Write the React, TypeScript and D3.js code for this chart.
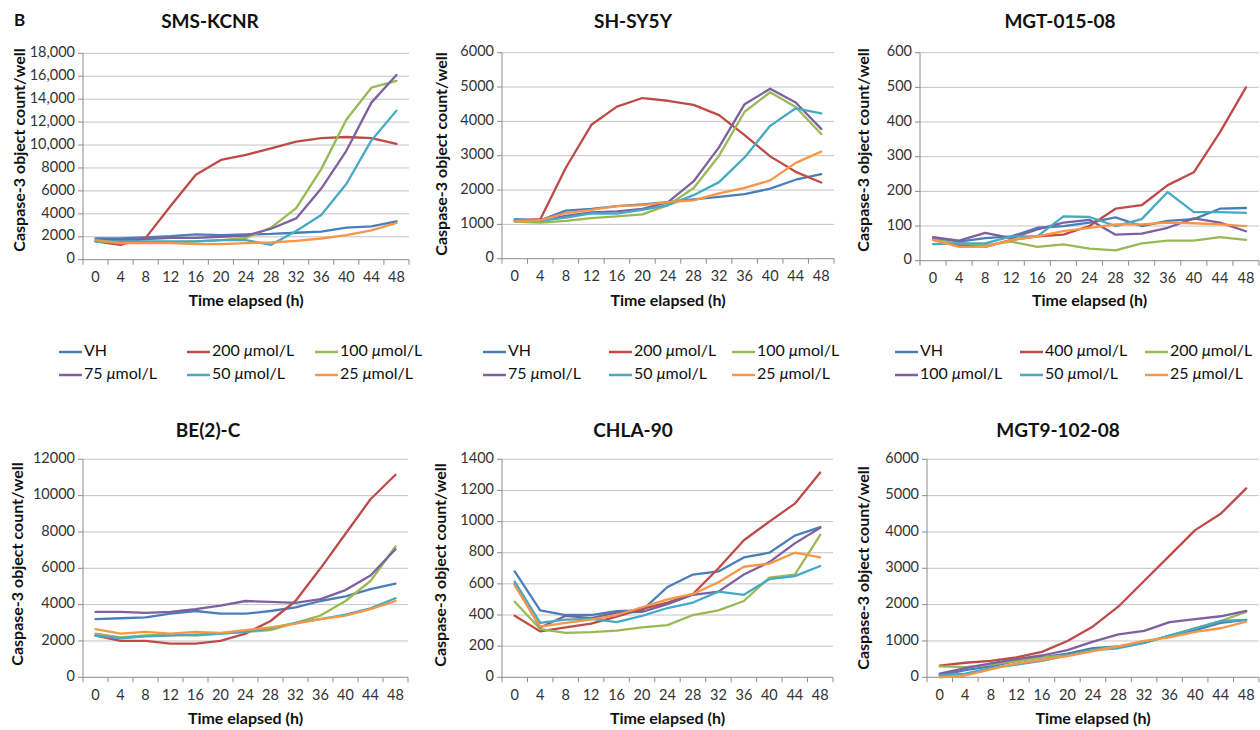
import React from "react";
import * as d3 from "d3";

// time points (h)
const hours = [0, 4, 8, 12, 16, 20, 24, 28, 32, 36, 40, 44, 48];

const seriesColors = ["#4a7ebb", "#be4b48", "#98b954", "#7d60a0", "#46aac5", "#f79646"];
const concA = ["VH", "200 ", "100 ", "75 ", "50 ", "25 "];
const concB = ["VH", "400 ", "200 ", "100 ", "50 ", "25 "];

// SMS-KCNR
const kcnrVH = [1850, 1850, 1950, 2050, 2200, 2150, 2200, 2250, 2350, 2450, 2800, 2900, 3350];
const kcnr200 = [1600, 1300, 1900, 4700, 7400, 8700, 9150, 9700, 10300, 10600, 10700, 10600, 10100];
const kcnr100 = [1600, 1500, 1500, 1500, 1600, 1700, 1900, 2800, 4500, 7900, 12200, 15000, 15600];
const kcnr75 = [1700, 1700, 1800, 1900, 1900, 2000, 2100, 2700, 3600, 6200, 9500, 13700, 16100];
const kcnr50 = [1600, 1600, 1600, 1600, 1600, 1700, 1700, 1300, 2500, 3900, 6600, 10400, 13000];
const kcnr25 = [1700, 1450, 1450, 1450, 1350, 1350, 1450, 1500, 1650, 1850, 2150, 2550, 3200];
const kcnrTicks = [0, 2000, 4000, 6000, 8000, 10000, 12000, 14000, 16000, 18000];
const kcnrTickLabels = ["0", "2000", "4000", "6000", "8000", "10,000", "12,000", "14,000", "16,000", "18,000"];

// SH-SY5Y
const shVH = [1150, 1120, 1400, 1450, 1530, 1580, 1650, 1730, 1800, 1880, 2040, 2300, 2460];
const sh200 = [1100, 1150, 2650, 3900, 4430, 4680, 4600, 4480, 4180, 3600, 2980, 2530, 2220];
const sh100 = [1080, 1050, 1100, 1180, 1230, 1290, 1560, 2050, 3000, 4280, 4850, 4420, 3630];
const sh75 = [1100, 1100, 1250, 1350, 1380, 1450, 1650, 2250, 3250, 4500, 4950, 4550, 3780];
const sh50 = [1130, 1100, 1200, 1320, 1310, 1420, 1560, 1850, 2230, 2950, 3870, 4380, 4230];
const sh25 = [1080, 1120, 1330, 1420, 1530, 1560, 1650, 1700, 1900, 2060, 2280, 2790, 3120];
const shTicks = [0, 1000, 2000, 3000, 4000, 5000, 6000];

// MGT-015-08
const mgt1VH = [65, 55, 65, 70, 95, 100, 110, 125, 100, 115, 120, 150, 152];
const mgt1400 = [60, 45, 40, 60, 70, 75, 100, 150, 160, 218, 255, 370, 500];
const mgt1200 = [60, 50, 45, 55, 40, 47, 35, 30, 50, 58, 58, 68, 60];
const mgt1100 = [68, 58, 80, 65, 90, 110, 118, 75, 78, 95, 122, 110, 85];
const mgt150 = [48, 50, 50, 70, 70, 128, 126, 100, 120, 198, 140, 140, 138];
const mgt125 = [60, 40, 40, 60, 70, 85, 95, 105, 105, 110, 108, 105, 100];
const mgt1Ticks = [0, 100, 200, 300, 400, 500, 600];

// BE(2)-C
const beVH = [3200, 3250, 3300, 3500, 3650, 3500, 3500, 3650, 3850, 4200, 4450, 4850, 5150];
const be200 = [2300, 2000, 2000, 1850, 1850, 2000, 2400, 3100, 4200, 6000, 7900, 9800, 11150];
const be100 = [2400, 2200, 2300, 2350, 2300, 2400, 2500, 2600, 3000, 3400, 4200, 5300, 7200];
const be75 = [3600, 3600, 3550, 3600, 3750, 3950, 4200, 4150, 4100, 4300, 4800, 5600, 7050];
const be50 = [2300, 2150, 2250, 2300, 2350, 2400, 2500, 2700, 3000, 3200, 3450, 3800, 4350];
const be25 = [2650, 2400, 2500, 2400, 2500, 2450, 2600, 2750, 2950, 3200, 3400, 3750, 4200];
const beTicks = [0, 2000, 4000, 6000, 8000, 10000, 12000];

// CHLA-90
const chVH = [680, 430, 400, 400, 425, 430, 580, 660, 680, 770, 800, 910, 965];
const ch200 = [395, 295, 320, 345, 390, 440, 480, 535, 700, 880, 1000, 1115, 1315];
const ch100 = [485, 310, 285, 290, 300, 320, 335, 400, 430, 490, 640, 660, 915];
const ch75 = [600, 320, 395, 380, 415, 420, 470, 530, 550, 660, 740, 860, 960];
const ch50 = [615, 350, 370, 375, 355, 395, 445, 480, 550, 530, 630, 650, 715];
const ch25 = [590, 325, 350, 370, 400, 450, 500, 535, 610, 710, 730, 800, 770];
const chTicks = [0, 200, 400, 600, 800, 1000, 1200, 1400];

// MGT9-102-08
const mgt9VH = [50, 200, 300, 450, 550, 650, 800, 850, 950, 1150, 1300, 1500, 1580];
const mgt9400 = [320, 400, 450, 550, 700, 1000, 1400, 1950, 2650, 3350, 4050, 4500, 5200];
const mgt9200 = [300, 280, 350, 450, 550, 600, 750, 850, 950, 1150, 1350, 1550, 1800];
const mgt9100 = [100, 250, 380, 500, 600, 750, 980, 1180, 1280, 1520, 1600, 1680, 1830];
const mgt950 = [50, 100, 250, 350, 450, 600, 750, 800, 950, 1150, 1350, 1550, 1580];
const mgt925 = [0, 50, 220, 380, 480, 580, 720, 850, 1000, 1100, 1250, 1350, 1530];
const mgt9Ticks = [0, 1000, 2000, 3000, 4000, 5000, 6000];

const FONT = "Lato, 'Open Sans', sans-serif";
const Y_TITLE = "Caspase-3 object count/well";

const panels = [
  { title: "SMS-KCNR", titleX: 210, x0: 83, x1: 409, yTop: 53.3, yBot: 259.7, ticks: kcnrTicks, labels: kcnrTickLabels,
    values: [kcnrVH, kcnr200, kcnr100, kcnr75, kcnr50, kcnr25], names: concA, legendX: [59, 187, 315], yLabX: 21, yLabY: 150 },
  { title: "SH-SY5Y", titleX: 633, x0: 502, x1: 834, yTop: 52.7, yBot: 258.7, ticks: shTicks, labels: null,
    values: [shVH, sh200, sh100, sh75, sh50, sh25], names: concA, legendX: [483, 609, 732], yLabX: 443, yLabY: 154 },
  { title: "MGT-015-08", titleX: 1060, x0: 920, x1: 1259, yTop: 52.7, yBot: 260.7, ticks: mgt1Ticks, labels: null,
    values: [mgt1VH, mgt1400, mgt1200, mgt1100, mgt150, mgt125], names: concB, legendX: [895, 1020, 1145], yLabX: 865, yLabY: 150 },
  { title: "BE(2)-C", titleX: 208, x0: 83, x1: 408, yTop: 459.3, yBot: 677.3, ticks: beTicks, labels: null,
    values: [beVH, be200, be100, be75, be50, be25], names: null, legendX: null, yLabX: 19, yLabY: 564 },
  { title: "CHLA-90", titleX: 633, x0: 502, x1: 833, yTop: 459.3, yBot: 677.3, ticks: chTicks, labels: null,
    values: [chVH, ch200, ch100, ch75, ch50, ch25], names: null, legendX: null, yLabX: 442, yLabY: 565 },
  { title: "MGT9-102-08", titleX: 1058, x0: 927, x1: 1259, yTop: 459.3, yBot: 677.3, ticks: mgt9Ticks, labels: null,
    values: [mgt9VH, mgt9400, mgt9200, mgt9100, mgt950, mgt925], names: null, legendX: null, yLabX: 865, yLabY: 568 },
];

function Panel({ p }: { p: any }) {
  const xs = d3.scaleBand<number>().domain(hours).range([p.x0, p.x1]).padding(0);
  const bw = xs.bandwidth();
  const ys = d3.scaleLinear().domain([0, p.ticks[p.ticks.length - 1]]).range([p.yBot, p.yTop]);
  const line = d3.line<number>()
    .x((_, i) => (xs(hours[i]) as number) + bw / 2)
    .y((v) => ys(v));
  const cx = (p.x0 + p.x1) / 2;
  const top = p.yTop < 200;
  const titleY = top ? 23 : 432;
  const tickLabY = p.yBot + 19;
  const xTitleY = top ? 302 : 720;

  return (
    <g>
      <text x={p.titleX} y={titleY} textAnchor="middle" dominantBaseline="middle"
        fontSize={19} fontWeight="bold" fill="#111">{p.title}</text>
      {p.ticks.map((t: number, i: number) => (
        <g key={"y" + i}>
          {t > 0 && <line x1={p.x0} x2={p.x1} y1={ys(t)} y2={ys(t)} stroke="#c3c3c3" strokeWidth={1} />}
          <line x1={p.x0 - 5} x2={p.x0} y1={ys(t)} y2={ys(t)} stroke="#8c8c8c" strokeWidth={1} />
          <text x={p.x0 - 8} y={ys(t)} textAnchor="end" dominantBaseline="middle" fontSize={14.5} fill="#333">
            {p.labels ? p.labels[i] : String(t)}
          </text>
        </g>
      ))}
      <line x1={p.x0} x2={p.x0} y1={p.yTop} y2={p.yBot} stroke="#8c8c8c" strokeWidth={1} />
      <line x1={p.x0} x2={p.x1} y1={p.yBot} y2={p.yBot} stroke="#8c8c8c" strokeWidth={1} />
      {d3.range(hours.length + 1).map((i) => (
        <line key={"xt" + i} x1={p.x0 + i * bw} x2={p.x0 + i * bw} y1={p.yBot} y2={p.yBot + 5}
          stroke="#8c8c8c" strokeWidth={1} />
      ))}
      {hours.map((h) => (
        <text key={"xl" + h} x={(xs(h) as number) + bw / 2} y={tickLabY} textAnchor="middle"
          dominantBaseline="middle" fontSize={14.5} fill="#333">{h}</text>
      ))}
      <text x={cx} y={xTitleY} textAnchor="middle" dominantBaseline="middle" fontSize={16}
        fontWeight="bold" fill="#111">Time elapsed (h)</text>
      <text transform={`translate(${p.yLabX},${p.yLabY}) rotate(-90)`} textAnchor="middle"
        dominantBaseline="middle" fontSize={16} fontWeight="bold" fill="#111">{Y_TITLE}</text>
      {p.values.map((vals: number[], i: number) => (
        <path key={"s" + i} d={line(vals) as string} fill="none" stroke={seriesColors[i]}
          strokeWidth={2.3} strokeLinejoin="round" strokeLinecap="round" />
      ))}
      {p.names && p.names.map((n: string, i: number) => {
        const sx = p.legendX[i % 3];
        const y = i < 3 ? 352 : 375;
        return (
          <g key={"lg" + i}>
            <line x1={sx} x2={sx + 23} y1={y} y2={y} stroke={seriesColors[i]} strokeWidth={2.5} />
            <text x={sx + 25} y={y} dominantBaseline="middle" fontSize={16} fill="#111">
              {n}{n !== "VH" && <tspan fontStyle="italic">μ</tspan>}{n !== "VH" && "mol/L"}
            </text>
          </g>
        );
      })}
    </g>
  );
}

export default function App() {
  return (
    <svg width={1260} height={730} style={{ position: "absolute", left: 0, top: 0, background: "#fff" }}
      fontFamily={FONT}>
      <rect width={1260} height={730} fill="#fff" />
      <text x={14} y={22} dominantBaseline="middle" fontSize={17} fontWeight="bold" fill="#111">B</text>
      {panels.map((p) => <Panel key={p.title} p={p} />)}
    </svg>
  );
}
